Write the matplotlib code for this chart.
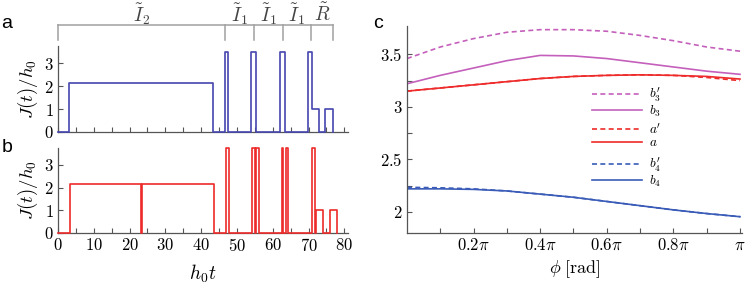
import matplotlib
matplotlib.use("Agg")
import matplotlib.pyplot as plt
import matplotlib.transforms as mtransforms
from matplotlib.legend import Legend
from matplotlib.ticker import MultipleLocator, FixedLocator, FuncFormatter
import numpy as np

plt.rcParams["font.family"] = "serif"
plt.rcParams["font.serif"] = ["cmr10"]
plt.rcParams["mathtext.fontset"] = "cm"
plt.rcParams["axes.formatter.use_mathtext"] = True

# panel a: pulse sequence (step function, value holds until next time)
t_a = [0, 3.1, 43.4, 46.7, 47.5, 53.8, 55.4, 61.9, 63.5, 69.9, 70.9, 73.0, 74.6, 76.8]
J_a = [0, 2.15, 0, 3.5, 0, 3.5, 0, 3.5, 0, 3.5, 1.0, 0, 1.0, 0]

# panel b: optimised sequence
t_b = [0, 3.4, 23.3, 23.55, 43.5, 46.9, 47.8, 54.3, 54.9, 55.4, 56.2,
       62.5, 62.9, 63.6, 64.2, 70.9, 71.8, 72.0, 74.0, 75.9, 78.0]
J_b = [0, 2.15, 0, 2.15, 0, 3.75, 0, 3.75, 0, 3.75, 0,
       3.75, 0, 3.75, 0, 3.75, 0, 1.0, 0, 1.0, 0]

# bracket above panel a
seg_edges = [0, 46.7, 54.7, 62.8, 70.8, 76.8]
seg_labels = [r"$\tilde{I}_2$", r"$\tilde{I}_1$", r"$\tilde{I}_1$", r"$\tilde{I}_1$", r"$\tilde{R}$"]

# panel c: curves vs phi (in units of pi)
phi = [0, 0.1, 0.2, 0.3, 0.4, 0.5, 0.6, 0.7, 0.8, 0.9, 1.0]
b3p = [3.46, 3.57, 3.65, 3.71, 3.735, 3.735, 3.72, 3.68, 3.63, 3.57, 3.53]
b3 = [3.22, 3.30, 3.37, 3.44, 3.49, 3.485, 3.46, 3.42, 3.38, 3.34, 3.31]
ap = [3.15, 3.18, 3.21, 3.24, 3.27, 3.29, 3.30, 3.305, 3.30, 3.28, 3.25]
a = [3.15, 3.18, 3.21, 3.24, 3.27, 3.29, 3.30, 3.305, 3.30, 3.29, 3.265]
b4p = [2.235, 2.23, 2.22, 2.20, 2.17, 2.14, 2.10, 2.06, 2.02, 1.985, 1.955]
b4 = [2.22, 2.22, 2.215, 2.20, 2.17, 2.14, 2.10, 2.06, 2.02, 1.985, 1.955]

BLUE_A = "#4646b0"
RED = "#ee2a2a"
MAGENTA = "#c460bc"
BLUE = "#3a5cb8"
SPINE = "#555555"
FS = 12

fig = plt.figure(figsize=(7.47, 2.89), dpi=100)
ax_a = fig.add_axes([0.0776, 0.5433, 0.3882, 0.2976])
ax_b = fig.add_axes([0.0776, 0.1938, 0.3882, 0.2941])
ax_c = fig.add_axes([0.5448, 0.1938, 0.4485, 0.7163])


def style(ax):
    for s in ["top", "right"]:
        ax.spines[s].set_visible(False)
    for s in ["left", "bottom"]:
        ax.spines[s].set_color(SPINE)
        ax.spines[s].set_linewidth(0.9)
    ax.tick_params(which="both", direction="in", length=3.5, width=0.8,
                   color=SPINE, labelsize=FS, pad=3)


for ax, t, J, col in [(ax_a, t_a, J_a, BLUE_A), (ax_b, t_b, J_b, RED)]:
    style(ax)
    ax.plot(t, J, drawstyle="steps-post", color=col, lw=1.2, clip_on=False, zorder=3)
    ax.set_xlim(0, 81)
    ax.set_ylim(0, 3.75)
    ax.xaxis.set_major_locator(MultipleLocator(5))
    ax.yaxis.set_major_locator(FixedLocator([0, 1, 2, 3]))
    ax.yaxis.set_major_formatter(FuncFormatter(lambda v, p: "$%d$" % v))
    ax.set_ylabel(r"$J(t)/h_0$", fontsize=13.5, labelpad=3)

ax_a.tick_params(axis="x", labelbottom=False)
ax_b.xaxis.set_major_formatter(
    FuncFormatter(lambda v, p: "$%d$" % v if int(round(v)) % 10 == 0 else ""))
ax_b.set_xlabel(r"$h_0t$", fontsize=14, labelpad=6)

# bracket
trans = mtransforms.blended_transform_factory(ax_a.transData, ax_a.transAxes)
gray = "#a0a0a0"
ax_a.plot([seg_edges[0], seg_edges[-1]], [1.244, 1.244], color=gray, lw=1.1,
          transform=trans, clip_on=False)
for e in seg_edges:
    ax_a.plot([e, e], [1.244, 1.07], color=gray, lw=1.1, transform=trans, clip_on=False)
for i, lab in enumerate(seg_labels):
    ax_a.text((seg_edges[i] + seg_edges[i + 1]) / 2, 1.37, lab, transform=trans,
              ha="center", va="center", fontsize=14, color="#444444")

# panel c
style(ax_c)
x = np.array(phi) * np.pi
h_b3p, = ax_c.plot(x, b3p, color=MAGENTA, lw=1.2, ls=(0, (3, 2)))
h_b3, = ax_c.plot(x, b3, color=MAGENTA, lw=1.2)
h_ap, = ax_c.plot(x, ap, color=RED, lw=1.2, ls=(0, (3, 2)))
h_a, = ax_c.plot(x, a, color=RED, lw=1.2)
h_b4p, = ax_c.plot(x, b4p, color=BLUE, lw=1.2, ls=(0, (3, 2)))
h_b4, = ax_c.plot(x, b4, color=BLUE, lw=1.2)
ax_c.set_xlim(0, 1.006 * np.pi)
ax_c.set_ylim(1.8, 3.77)
ax_c.xaxis.set_major_locator(FixedLocator([k * np.pi / 10 for k in range(1, 11)]))
pi_labels = {2: r"$0.2\pi$", 4: r"$0.4\pi$", 6: r"$0.6\pi$", 8: r"$0.8\pi$", 10: r"$\pi$"}
ax_c.xaxis.set_major_formatter(
    FuncFormatter(lambda v, p: pi_labels.get(int(round(v / np.pi * 10)), "")))
ax_c.yaxis.set_major_locator(FixedLocator([2.0, 2.25, 2.5, 2.75, 3.0, 3.25, 3.5]))
ax_c.yaxis.set_major_formatter(
    FuncFormatter(lambda v, p: "$%g$" % v if abs(v * 2 - round(v * 2)) < 1e-6 else ""))
ax_c.set_xlabel(r"$\phi\;[\mathrm{rad}]$", fontsize=13, labelpad=4)

groups = [((h_b3p, h_b3), (r"$b_3'$", r"$b_3$"), 0.712),
          ((h_ap, h_a), (r"$a'$", r"$a$"), 0.534),
          ((h_b4p, h_b4), (r"$b_4'$", r"$b_4$"), 0.372)]
for hs, labs, ytop in groups:
    leg = Legend(ax_c, hs, labs, loc="upper left", bbox_to_anchor=(0.552, ytop),
                 frameon=False, fontsize=9.5, handlelength=3.8,
                 handletextpad=0.5, labelspacing=0.0, borderpad=0,
                 borderaxespad=0)
    ax_c.add_artist(leg)

# panel letters
for lab, px, py in [("a", 7, 23), ("b", 7, 148), ("c", 378, 23)]:
    fig.text(px / 747, 1 - py / 289, lab, fontsize=14, family="Liberation Sans",
             ha="center", va="center")

fig.savefig("out.png", dpi=100)
